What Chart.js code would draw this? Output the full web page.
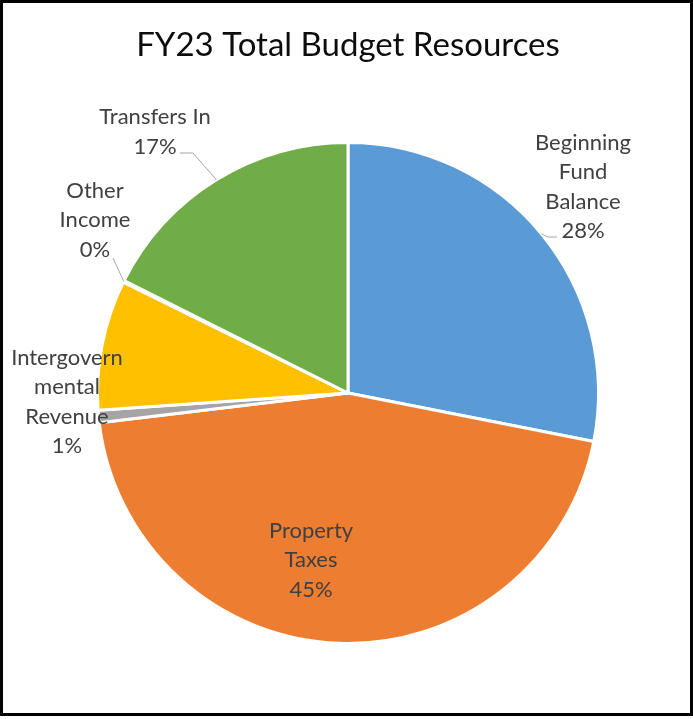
<!DOCTYPE html>
<html>
<head>
<meta charset="utf-8">
<script src="https://cdn.jsdelivr.net/npm/chart.js@4.4.0/dist/chart.umd.min.js"></script>
<style>
    body { margin: 0; background: #fff; }
    #wrap { position: relative; width: 693px; height: 719px; }
</style>
</head>
<body>
<div id="wrap"><canvas id="budget-chart"></canvas></div>
<script>
// Data (percent of total resources)
const categories = ['Beginning Fund Balance', 'Property Taxes', 'Intergovernmental Revenue', '', 'Other Income', 'Transfers In'];
const shares = [28.1, 45.0, 0.8, 8.4, 0.1, 17.6];
const shareLabels = ['28%', '45%', '1%', '', '0%', '17%'];
const labelLines = [['Beginning', 'Fund', 'Balance'], ['Property', 'Taxes'], ['Intergovern', 'mental', 'Revenue'], [], ['Other', 'Income'], ['Transfers In']];
const colors = ['#5B9BD5', '#ED7D31', '#A5A5A5', '#FFC000', '#4472C4', '#70AD47'];

// Label placement relative to pie centre (block centre), plus leader elbows
const labelPos = [
    { dx: 235, dy: -206, leader: [[200, -156], [209, -156]] },
    { dx: -37, dy: 167 },
    { dx: -281, dy: 9 },
    null,
    { dx: -253, dy: -173, leader: [[-235, -135]] },
    { dx: -193, dy: -261, leader: [[-155, -240], [-168, -240]] }
];

const LINE_H = 29.5;
const LABEL_FONT = '22px Lato';

// Draws the box border, title and data labels
const decorPlugin = {
    id: 'decor',
    beforeDraw(chart) {
        const ctx = chart.ctx;
        ctx.save();
        ctx.fillStyle = '#fff';
        ctx.fillRect(0, 0, chart.width, chart.height);
        ctx.restore();
    },
    afterDatasetsDraw(chart) {
        const ctx = chart.ctx;
        const meta = chart.getDatasetMeta(0);
        const cx = meta.data[0].x;
        const cy = meta.data[0].y;
        ctx.save();

        // title
        ctx.fillStyle = '#0d0d0d';
        ctx.font = '33px Lato';
        ctx.textAlign = 'center';
        ctx.textBaseline = 'alphabetic';
        ctx.fillText('FY23 Total Budget Resources', cx, 56);

        ctx.font = LABEL_FONT;
        ctx.textBaseline = 'middle';
        meta.data.forEach((arc, i) => {
            const pos = labelPos[i];
            if (!pos) return;
            const lines = labelLines[i].concat([shareLabels[i]]);
            const bx = cx + pos.dx;
            const by = cy + pos.dy;
            const top = by - (lines.length - 1) * LINE_H / 2;

            if (pos.leader) {
                const mid = (arc.startAngle + arc.endAngle) / 2;
                const r = arc.outerRadius;
                ctx.strokeStyle = '#A6A6A6';
                ctx.lineWidth = 1;
                ctx.beginPath();
                ctx.moveTo(cx + Math.cos(mid) * r, cy + Math.sin(mid) * r);
                pos.leader.forEach(p => ctx.lineTo(cx + p[0], cy + p[1]));
                ctx.stroke();
            }

            ctx.fillStyle = '#404040';
            lines.forEach((t, k) => ctx.fillText(t, bx, top + k * LINE_H));
        });

        // outer frame
        ctx.strokeStyle = '#000';
        ctx.lineWidth = 3;
        ctx.strokeRect(1.5, 1.5, chart.width - 3, chart.height - 6);
        ctx.restore();
    }
};

const budgetChart = new Chart(document.getElementById('budget-chart'), {
    type: 'pie',
    data: {
        labels: categories,
        datasets: [{
            data: shares,
            backgroundColor: colors,
            borderColor: '#fff',
            borderWidth: 3
        }]
    },
    options: {
        responsive: true,
        maintainAspectRatio: false,
        animation: false,
        layout: { padding: { left: 96, right: 93, top: 141, bottom: 74 } },
        plugins: {
            legend: { display: false },
            tooltip: { enabled: false },
            title: { display: false }
        }
    },
    plugins: [decorPlugin]
});
</script>
</body>
</html>
